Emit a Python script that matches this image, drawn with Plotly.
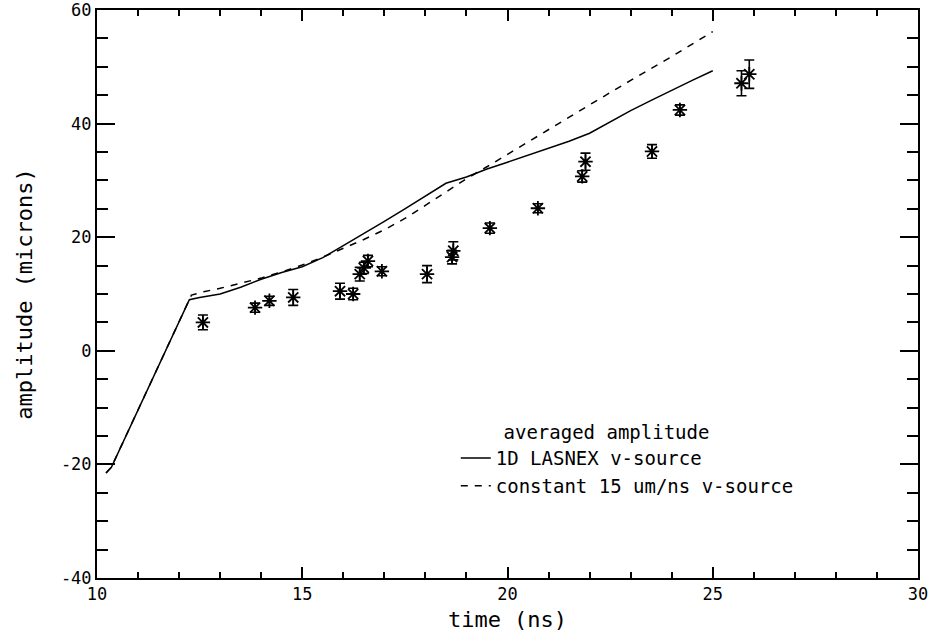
import plotly.graph_objects as go

# LASNEX v-source (solid)
lasnex_t = [10.22, 10.35, 12.25, 12.5, 13.0, 13.5, 14.0, 14.5, 15.0, 15.5, 16.0, 16.5,
            17.0, 17.5, 18.0, 18.5, 19.0, 19.5, 20.0, 20.5, 21.0, 21.5, 22.0, 22.5,
            23.0, 23.5, 24.0, 24.5, 25.0]
lasnex_a = [-21.5, -20.5, 9.0, 9.4, 10.0, 11.2, 12.6, 13.8, 14.8, 16.4, 18.5, 20.6,
            22.8, 25.0, 27.3, 29.5, 30.6, 32.0, 33.2, 34.4, 35.6, 36.9, 38.3, 40.3,
            42.3, 44.1, 45.9, 47.6, 49.3]

# constant 15 um/ns v-source (dashed)
const_t = [10.22, 10.35, 12.3, 12.6, 13.0, 13.5, 14.0, 14.5, 15.0, 15.5, 16.0, 16.5,
           17.0, 17.5, 18.0, 18.5, 19.0, 19.5, 20.0, 21.0, 22.0, 23.0, 24.0, 25.0]
const_a = [-21.5, -20.5, 9.8, 10.4, 11.0, 11.9, 12.8, 13.9, 15.1, 16.5, 18.0, 19.6,
           21.3, 23.3, 25.6, 28.0, 30.3, 32.4, 34.6, 39.0, 43.3, 47.6, 51.8, 56.2]

# averaged amplitude data (asterisks with error bars)
data_t = [12.58, 13.85, 14.2, 14.78, 15.92, 16.24, 16.4, 16.5, 16.6, 16.94, 18.04,
          18.65, 18.68, 19.57, 20.74, 21.82, 21.9, 23.52, 24.2, 25.7, 25.89]
data_a = [5.0, 7.6, 8.8, 9.4, 10.5, 10.0, 13.5, 14.6, 15.8, 14.0, 13.5,
          16.5, 17.6, 21.6, 25.1, 30.7, 33.3, 35.1, 42.4, 47.1, 48.7]
data_err = [1.3, 0.8, 0.8, 1.4, 1.4, 1.0, 1.2, 1.0, 1.0, 0.8, 1.5,
            1.2, 1.6, 0.9, 0.8, 1.0, 1.5, 1.2, 0.9, 2.2, 2.5]

x_ticks = [10, 15, 20, 25, 30]
y_ticks = [-40, -20, 0, 20, 40, 60]

FONT = "DejaVu Sans Mono"
NB = "\u00a0"

fig = go.Figure()
fig.add_trace(go.Scatter(
    x=data_t, y=data_a, mode="markers", showlegend=False,
    marker=dict(symbol="asterisk-open", size=12, color="black",
                line=dict(color="black", width=1.8)),
    error_y=dict(type="data", array=data_err, visible=True, color="black",
                 thickness=1.6, width=5),
))
fig.add_trace(go.Scatter(
    x=lasnex_t, y=lasnex_a, mode="lines", name="1D LASNEX v-source",
    line=dict(color="black", width=1.5),
))
fig.add_trace(go.Scatter(
    x=const_t, y=const_a, mode="lines", name="constant 15 um/ns v-source",
    line=dict(color="black", width=1.5, dash="7px,7px"),
))

fig.update_layout(
    width=944, height=634,
    margin=dict(l=97, r=26, t=10, b=56),
    paper_bgcolor="white", plot_bgcolor="white",
    font=dict(family=FONT, size=18, color="black"),
    legend=dict(
        x=0.437, y=0.288, xanchor="left", yanchor="top",
        bgcolor="rgba(0,0,0,0)", borderwidth=0,
        itemwidth=30,
        title=dict(text=NB * 4 + "averaged amplitude", font=dict(family=FONT, size=19)),
        font=dict(family=FONT, size=19),
    ),
    xaxis=dict(
        range=[10, 30], tickvals=x_ticks, ticktext=[str(v) for v in x_ticks],
        showgrid=False, zeroline=False, automargin=False,
        showline=True, linecolor="black", linewidth=2, mirror="allticks",
        ticks="inside", ticklen=11, tickwidth=2, tickcolor="black",
        ticklabeloverflow="allow", tickfont=dict(size=17),
        minor=dict(dtick=1, ticks="inside", ticklen=6, tickwidth=1.5, tickcolor="black", showgrid=False),
        title=dict(text="time (ns)", standoff=8),
    ),
    yaxis=dict(
        range=[-40, 60], tickvals=y_ticks, ticktext=[str(v) for v in y_ticks],
        showgrid=False, zeroline=False, automargin=False,
        showline=True, linecolor="black", linewidth=2, mirror="allticks",
        ticks="inside", ticklen=18, tickwidth=2, tickcolor="black",
        ticklabeloverflow="allow", tickfont=dict(size=17),
        minor=dict(dtick=5, ticks="inside", ticklen=11, tickwidth=1.5, tickcolor="black", showgrid=False),
        title=dict(text="amplitude (microns)", standoff=22),
    ),
)

fig.write_html("out.html")
